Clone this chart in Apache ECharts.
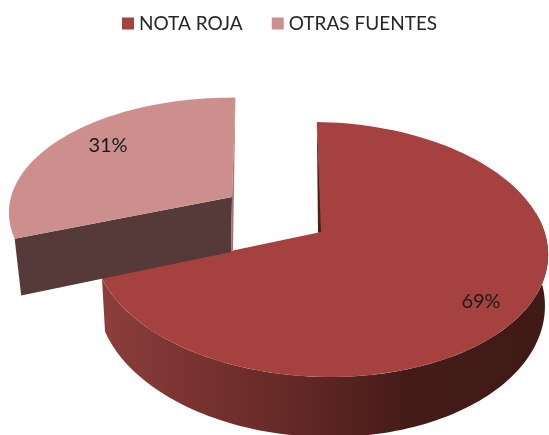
<!DOCTYPE html>
<html>
<head>
<meta charset="utf-8">
<style>
  html, body { margin: 0; padding: 0; background: #fff; }
  #chart { width: 549px; height: 435px; }
</style>
<script src="https://cdn.jsdelivr.net/npm/echarts@6/dist/echarts.min.js"></script>
</head>
<body>
<div id="chart"></div>
<script>
var names = ['NOTA ROJA', 'OTRAS FUENTES'];
var values = [69, 31];

var FONT = 'Lato, "Open Sans", sans-serif';
var START = -1.2 * Math.PI / 180;
var TILT = 0.137;  // how much closer the front edge looks

// one look per slice, the small one is pulled out to the upper left
var looks = [
  { cx: 321, cy: 232, r: 225, ky: 125, depth: 50, bx: 0.986, by: 1.07, turn: 0, shear: 0.023, label: [160, 70], top: '#a5423f', side: '#8c3f3c', sliver: '#4a1f1c' },
  { cx: 232, cy: 197, r: 221, ky: 113, depth: 55, bx: 0.97, by: 1.04, turn: 2.2, shear: 0, label: [-124, -51], top: '#cd8f8e', side: '#563a39', sliver: '#a57472' }
];

var total = values.reduce(function (a, b) { return a + b; }, 0);

function project(look, angle, scaleX, scaleY, dy) {
  var u = Math.sin(angle), v = -Math.cos(angle);
  var w = 1 - TILT * v;
  var x = look.r * u / w;
  return [look.cx + x * scaleX, look.cy + dy + look.ky * scaleY * v / w + look.shear * x];
}

function arc(look, a0, a1, scaleX, scaleY, dy) {
  var pts = [];
  for (var i = 0; i <= 120; i++) {
    pts.push(project(look, a0 + (a1 - a0) * i / 120, scaleX, scaleY, dy));
  }
  return pts;
}

function sliceRender(index) {
  return function (params, api) {
    var look = looks[index];
    var before = values.slice(0, index).reduce(function (a, b) { return a + b; }, 0);
    var a0 = START + (look.turn * Math.PI / 180) + before / total * Math.PI * 2;
    var a1 = a0 + api.value(0) / total * Math.PI * 2;
    var apex = [look.cx, look.cy];
    var rimPts = arc(look, a0, a1, 1, 1, 0);
    var children = [];

    if (index === 0) {
      // outer wall, only the front part is seen
      var wallTop = arc(look, Math.PI / 2 - 0.2, a1, 1, 1, 0);
      var wallBottom = arc(look, Math.PI / 2 - 0.2, a1, look.bx, look.by, look.depth).reverse();
      children.push({
        type: 'polygon',
        shape: { points: wallTop.concat(wallBottom) },
        style: {
          fill: {
            type: 'linear', x: 100, y: 0, x2: 549, y2: 0, global: true,
            colorStops: [
              { offset: 0, color: '#8c3f3c' },
              { offset: 0.2, color: '#7a3331' },
              { offset: 0.45, color: '#622825' },
              { offset: 0.68, color: '#451b18' },
              { offset: 1, color: '#3f1a17' }
            ]
          }
        }
      });
      // inner cut, thin dark strip along the start edge
      children.push({
        type: 'polygon',
        shape: { points: [rimPts[0], [apex[0] + 1, apex[1]], [apex[0] - 3, apex[1] + 1]] },
        style: { fill: look.sliver }
      });
    } else {
      // flat cut wall facing the viewer
      var corner = rimPts[0];
      var lowCorner = project(look, a0, look.bx, look.by, look.depth);
      children.push({
        type: 'polygon',
        shape: { points: [apex, corner, lowCorner, [apex[0] - 1, apex[1] + look.depth]] },
        style: { fill: look.side }
      });
      var end = rimPts[rimPts.length - 1];
      children.push({
        type: 'polygon',
        shape: { points: [end, [apex[0], apex[1]], [apex[0] - 1, apex[1] + look.depth], [apex[0] + 1, apex[1] + look.depth - 2]] },
        style: { fill: look.sliver }
      });
    }

    children.push({
      type: 'polygon',
      shape: { points: [apex].concat(rimPts) },
      style: { fill: look.top }
    });
    children.push({
      type: 'text',
      style: {
        x: look.cx + look.label[0],
        y: look.cy + look.label[1],
        text: api.value(0) + '%',
        fill: '#1a1a1a',
        font: '20px ' + FONT,
        align: 'center',
        verticalAlign: 'middle'
      }
    });
    return { type: 'group', children: children };
  };
}

var chart = echarts.init(document.getElementById('chart'), null, { renderer: 'canvas' });
chart.setOption({
  animation: false,
  legend: {
    top: 9,
    left: 117,
    itemWidth: 12,
    itemHeight: 12,
    itemGap: 29,
    icon: 'rect',
    textStyle: { fontFamily: FONT, fontSize: 19, color: '#262626' },
    data: names
  },
  series: names.map(function (name, i) {
    return {
      type: 'custom',
      name: name,
      coordinateSystem: 'none',
      itemStyle: { color: looks[i].top },
      renderItem: sliceRender(i),
      data: [[values[i]]],
      silent: true
    };
  })
});
</script>
</body>
</html>
